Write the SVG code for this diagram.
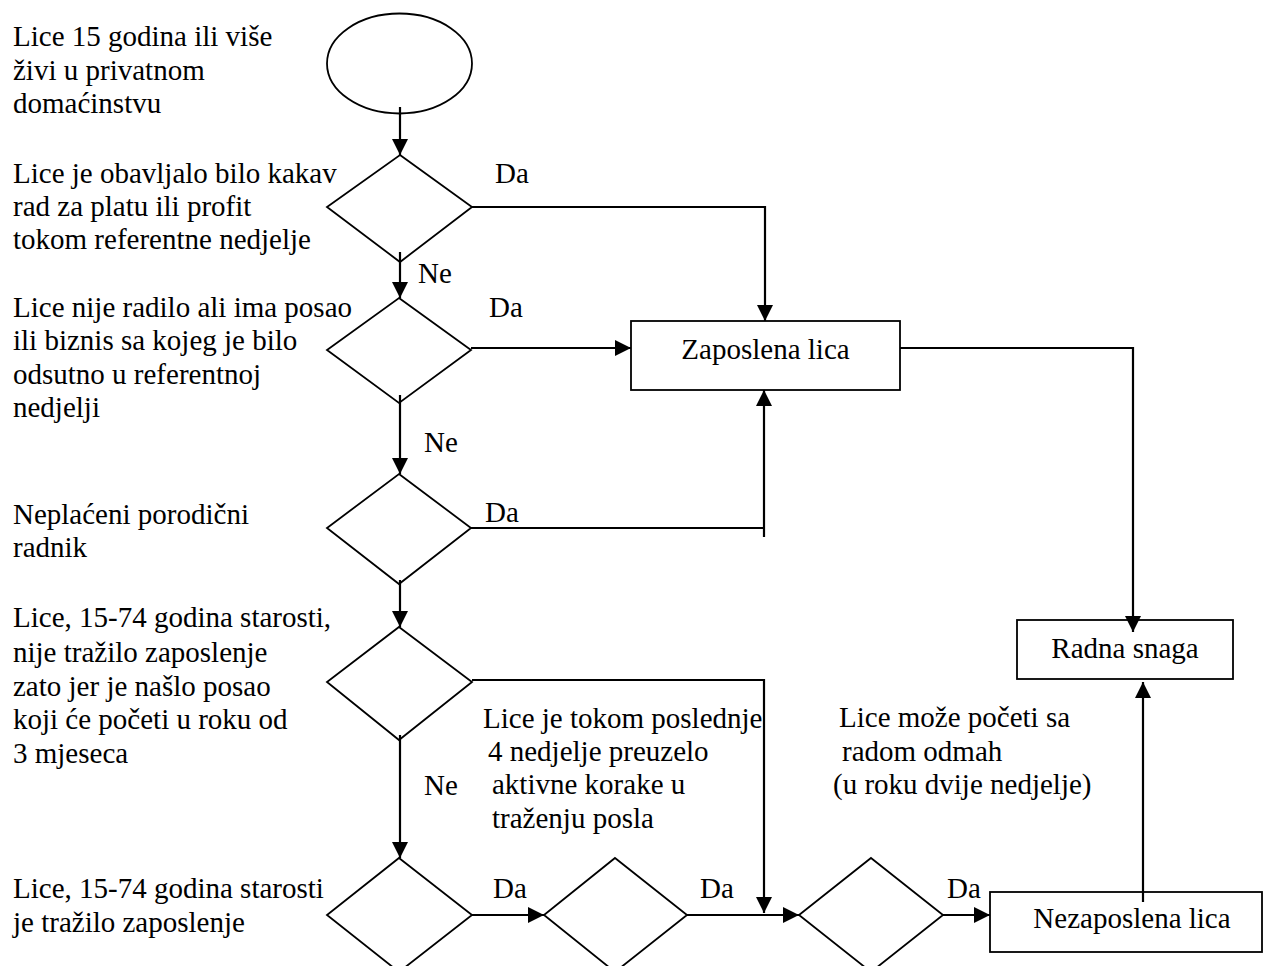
<svg xmlns="http://www.w3.org/2000/svg" width="1265" height="966" viewBox="0 0 1265 966">
<style>
text{font-family:"Liberation Serif","Times New Roman",serif;font-size:29px;fill:#000}
.s{fill:#fff;stroke:#000;stroke-width:1.8}
.c{fill:none;stroke:#000;stroke-width:2.2}
.m{text-anchor:middle}
</style>
<defs>
<marker id="a" markerUnits="userSpaceOnUse" markerWidth="17" markerHeight="16" refX="16" refY="8" orient="auto">
<path d="M0,0 L16,8 L0,16 z" fill="#000"/>
</marker>
</defs>
<rect width="1265" height="966" fill="#fff"/>
<g id="labels">
<text x="13" y="46">Lice 15 godina ili više</text>
<text x="13" y="80">živi u privatnom</text>
<text x="13" y="113">domaćinstvu</text>
<text x="13" y="183">Lice je obavljalo bilo kakav</text>
<text x="13" y="216">rad za platu ili profit</text>
<text x="13" y="249">tokom referentne nedjelje</text>
<text x="13" y="317">Lice nije radilo ali ima posao</text>
<text x="13" y="350">ili biznis sa kojeg je bilo</text>
<text x="13" y="384">odsutno u referentnoj</text>
<text x="13" y="417">nedjelji</text>
<text x="13" y="524">Neplaćeni porodični</text>
<text x="13" y="557">radnik</text>
<text x="13" y="627">Lice, 15-74 godina starosti,</text>
<text x="13" y="662">nije tražilo zaposlenje</text>
<text x="13" y="696">zato jer je našlo posao</text>
<text x="13" y="729">koji će početi u roku od</text>
<text x="13" y="763">3 mjeseca</text>
<text x="13" y="898">Lice, 15-74 godina starosti</text>
<text x="13" y="932">je tražilo zaposlenje</text>
<text x="483" y="728">Lice je tokom poslednje</text>
<text x="488" y="761">4 nedjelje preuzelo</text>
<text x="492" y="794">aktivne korake u</text>
<text x="492" y="828">traženju posla</text>
<text x="839" y="727">Lice može početi sa</text>
<text x="842" y="761">radom odmah</text>
<text x="833" y="794">(u roku dvije nedjelje)</text>
</g>
<g id="start"><ellipse class="s" cx="399.5" cy="63.5" rx="72.5" ry="50"/></g>
<g id="d1"><polygon class="s" points="400,155 472,207 400,262 327,207"/></g>
<g id="d2"><polygon class="s" points="399,298 471,350 399,403 327,350"/></g>
<g id="d3"><polygon class="s" points="399,474 471,528 399,584 327,528"/></g>
<g id="d4"><polygon class="s" points="399,627 472,682 399,740 327,682"/></g>
<g id="d6"><polygon class="s" points="399,858 472,915 399,972 327,915"/></g>
<g id="d7"><polygon class="s" points="615,858 687,915 615,972 544,915"/></g>
<g id="d5"><polygon class="s" points="871,858 943,915 871,972 799,915"/></g>
<g id="zaposlena"><rect class="s" x="631" y="321" width="269" height="69"/><text class="m" x="765.5" y="359">Zaposlena lica</text></g>
<g id="radna"><rect class="s" x="1017" y="620" width="216" height="59"/><text class="m" x="1125" y="658">Radna snaga</text></g>
<g id="nezaposlena"><rect class="s" x="990" y="892" width="272" height="60"/><text class="m" x="1132" y="928">Nezaposlena lica</text></g>
<g id="connectors">
<path class="c" d="M400,107 V155" marker-end="url(#a)"/>
<path class="c" d="M472,207 H765 V321" marker-end="url(#a)"/>
<path class="c" d="M400,252 V298" marker-end="url(#a)"/>
<path class="c" d="M471,348 H631" marker-end="url(#a)"/>
<path class="c" d="M400,395 V474" marker-end="url(#a)"/>
<path class="c" d="M471,528 H764"/>
<path class="c" d="M764,537 V390" marker-end="url(#a)"/>
<path class="c" d="M400,580 V627" marker-end="url(#a)"/>
<path class="c" d="M900,348 H1133 V632" marker-end="url(#a)"/>
<path class="c" d="M472,680 H764 V913" marker-end="url(#a)"/>
<path class="c" d="M400,735 V858" marker-end="url(#a)"/>
<path class="c" d="M472,915 H544" marker-end="url(#a)"/>
<path class="c" d="M687,915 H799" marker-end="url(#a)"/>
<path class="c" d="M943,915 H990" marker-end="url(#a)"/>
<path class="c" d="M1143,902 V682" marker-end="url(#a)"/>
<text x="495" y="183">Da</text>
<text x="418" y="283">Ne</text>
<text x="489" y="317">Da</text>
<text x="424" y="452">Ne</text>
<text x="485" y="522">Da</text>
<text x="424" y="795">Ne</text>
<text x="493" y="898">Da</text>
<text x="700" y="898">Da</text>
<text x="947" y="898">Da</text>
</g>
</svg>
